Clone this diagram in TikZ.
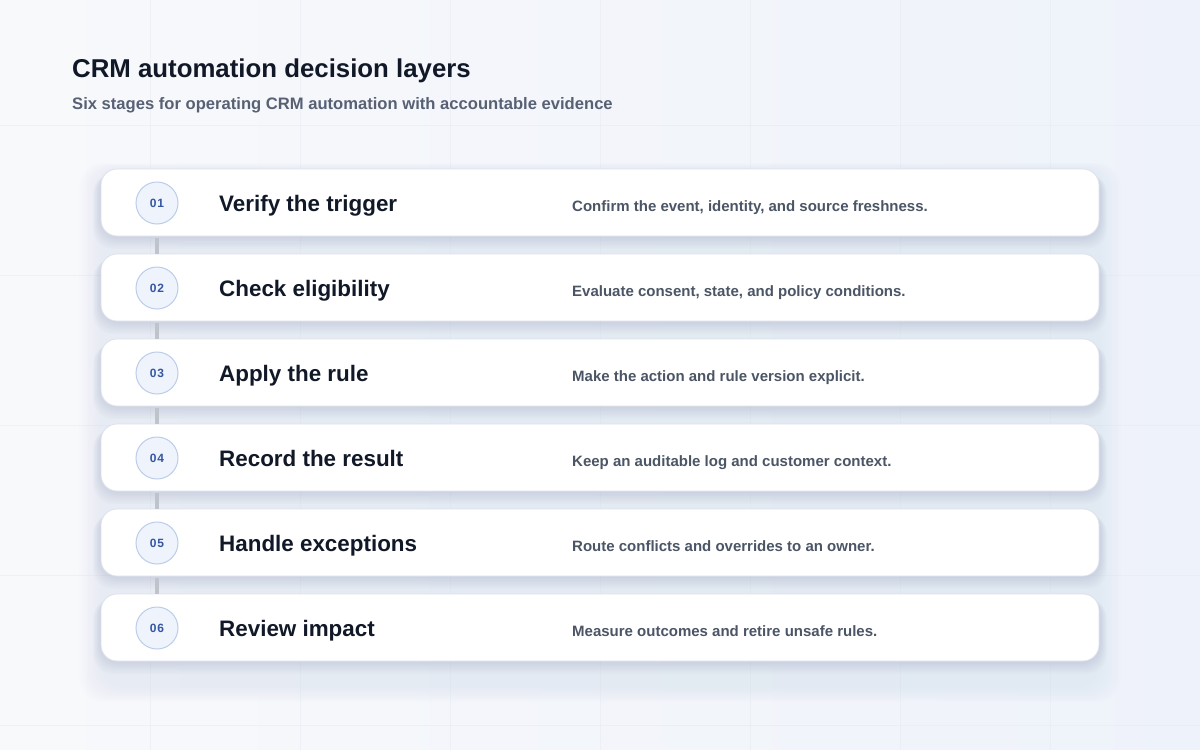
\documentclass[tikz,border=0pt]{standalone}
\usepackage{fontspec}
\setmainfont{Liberation Sans}
\definecolor{bgA}{HTML}{F8F9FB}
\definecolor{bgB}{HTML}{EEF2FA}
\definecolor{gridc}{HTML}{E4E8F0}
\definecolor{titlec}{HTML}{111827}
\definecolor{subc}{HTML}{586174}
\definecolor{descc}{HTML}{4B5565}
\definecolor{circfill}{HTML}{EEF3FC}
\definecolor{circdraw}{HTML}{BCCDEA}
\definecolor{numc}{HTML}{3556A3}
\definecolor{linkc}{HTML}{BFC3CB}
\definecolor{cardedge}{HTML}{DDE2EC}
\definecolor{shadowc}{HTML}{8E9AB8}
\tikzset{
  x=1pt,y=-1pt,
  card/.style={draw=cardedge,line width=0.8pt,fill=white,rounded corners=16pt},
  shadowlayer/.style={fill=shadowc,fill opacity=0.035,rounded corners=20pt},
  numcirc/.style={circle,draw=circdraw,line width=1pt,fill=circfill,minimum size=42pt,inner sep=0pt,
    font=\fontsize{12}{14}\selectfont\bfseries\addfontfeatures{LetterSpace=6},text=numc},
  stitle/.style={anchor=base west,inner sep=0pt,font=\fontsize{22.4}{26}\selectfont\bfseries,text=titlec},
  sdesc/.style={anchor=base west,inner sep=0pt,font=\fontsize{15}{18}\selectfont\bfseries,text=descc},
  link/.style={draw=linkc,line width=3.5pt}
}
\begin{document}
\begin{tikzpicture}
\useasboundingbox (0,0) rectangle (1200,750);
\shade[left color=bgA,right color=bgB] (0,0) rectangle (1200,750);
% faint grid
\foreach \gx in {150,300,450,600,750,900,1050}{\draw[gridc,line width=0.6pt,opacity=0.45] (\gx,0) -- (\gx,750);}
\foreach \gy in {125,275,425,575,725}{\draw[gridc,line width=0.6pt,opacity=0.45] (0,\gy) -- (1200,\gy);}
% soft panel shadow behind cards
\foreach \k in {0,...,7}{
  \fill[shadowc,fill opacity=0.01,rounded corners=24pt] (100-3*\k,170-\k) rectangle (1100+3*\k,688+2*\k);
}
% title
\node[anchor=base west,inner sep=0pt,font=\fontsize{25.8}{30}\selectfont\bfseries,text=titlec] (title) at (72,77) {CRM automation decision layers};
\node[anchor=base west,inner sep=0pt,font=\fontsize{16.6}{19}\selectfont\bfseries,text=subc] (subtitle) at (72,109) {Six stages for operating CRM automation with accountable evidence};
% card shadows
\foreach \i in {1,...,6}{
  \pgfmathsetmacro{\yt}{169+85*(\i-1)}
  \foreach \k in {1,...,8}{
    \fill[shadowlayer] (101-\k,\yt+1+0.5*\k) rectangle (1099+\k,\yt+67+1.6*\k);
  }
}
% cards
\foreach \i/\t/\d in {1/Verify the trigger/{Confirm the event, identity, and source freshness.},
  2/Check eligibility/{Evaluate consent, state, and policy conditions.},
  3/Apply the rule/{Make the action and rule version explicit.},
  4/Record the result/{Keep an auditable log and customer context.},
  5/Handle exceptions/{Route conflicts and overrides to an owner.},
  6/Review impact/{Measure outcomes and retire unsafe rules.}}{
  \pgfmathsetmacro{\yt}{169+85*(\i-1)}
  \pgfmathsetmacro{\yc}{\yt+34}
  \draw[card] (101,\yt) rectangle (1099,\yt+67);
  \node[numcirc] (n\i) at (157,\yc) {0\i};
  \node[stitle] (t\i) at (219,\yt+42.5) {\t};
  \node[sdesc] (d\i) at (572,\yt+42.5) {\d};
}
\foreach \a/\b in {1/2,2/3,3/4,4/5,5/6}{
  \path (n\a) -- (n\b) coordinate[pos=0.5] (m\a);
  \draw[link] ([yshift=8pt]m\a) -- ([yshift=-8pt]m\a);
}
\end{tikzpicture}
\end{document}
